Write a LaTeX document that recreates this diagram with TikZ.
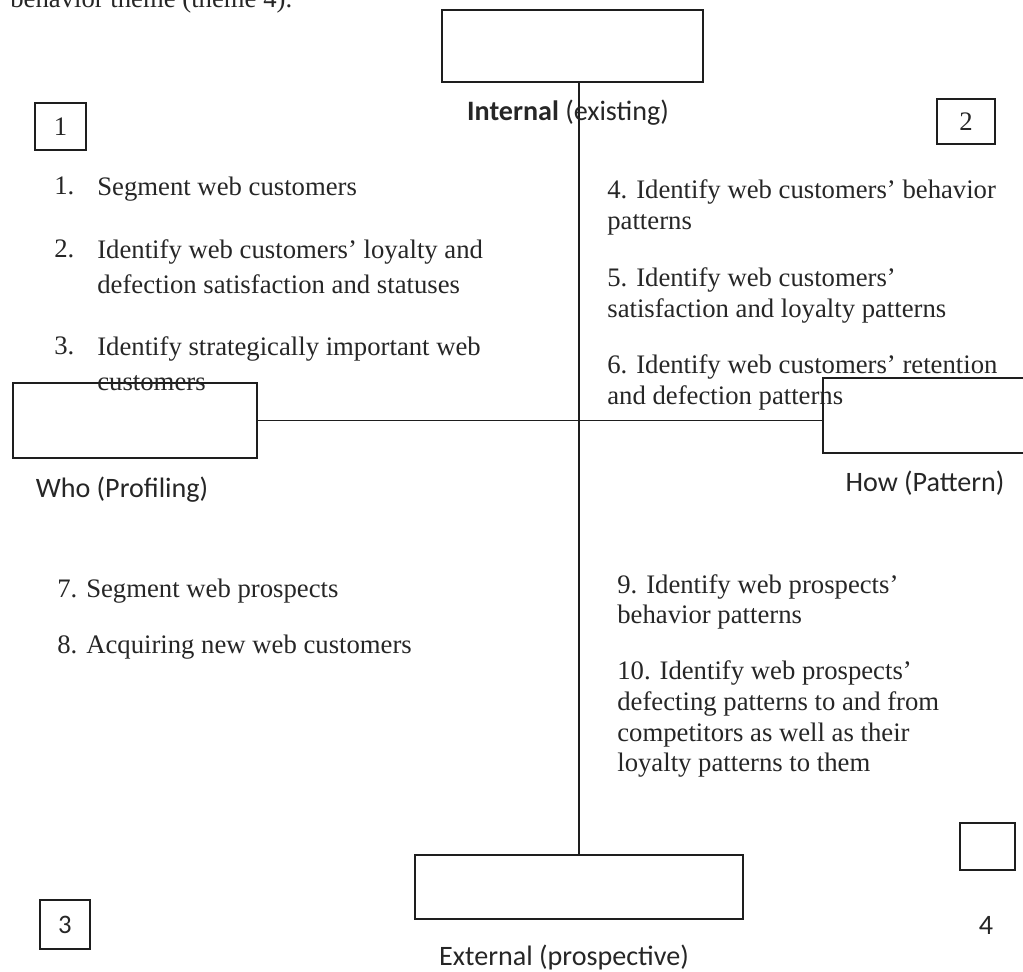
\documentclass[tikz,border=0pt]{standalone}
\usepackage{fontspec}
\setmainfont{Liberation Serif}
\setsansfont{Carlito}
\usetikzlibrary{calc}
\definecolor{InkClr}{RGB}{38,38,38}
\definecolor{LineClr}{RGB}{30,30,30}

\tikzset{
  emptybox/.style={draw=LineClr,line width=0.8pt,inner sep=0pt},
  numbox/.style={draw=LineClr,line width=0.7pt,inner sep=0pt,text=InkClr,
    font=\fontsize{15.2}{18}\selectfont},
  itemtext/.style={anchor=north west,inner sep=0pt,align=left,text=InkClr,
    font=\fontsize{15.2}{18.1}\selectfont},
  listtext/.style={itemtext,font=\fontsize{15.2}{20.4}\selectfont},
  sidelabel/.style={inner sep=0pt,text=InkClr,font=\sffamily\fontsize{16}{19}\selectfont},
}

\begin{document}
\begin{tikzpicture}[x=0.02cm,y=-0.02cm]
\useasboundingbox (0,0) rectangle (1023,972);

% cut-off line from the page above
\node[anchor=base west,inner sep=0pt,text=InkClr,font=\fontsize{15.2}{18}\selectfont]
  (prev) at (10,8) {behavior theme (theme 4).};

% the four empty boxes of the cross
\node[emptybox,minimum width=5.22cm,minimum height=1.44cm] (intl) at (572.5,46) {};
\node[emptybox,minimum width=6.56cm,minimum height=1.28cm] (ext) at (579,887) {};
\node[emptybox,minimum width=4.88cm,minimum height=1.5cm] (who) at (135,420.5) {};
\node[emptybox,minimum width=4.2cm,minimum height=1.5cm] (how) at (928,415.5) {};

\draw[line width=0.8pt,LineClr] (intl.south -| ext.north) -- (ext.north);
\draw[line width=0.8pt,LineClr] (who.east) -- (who.east -| how.west);

% axis labels
\node[sidelabel] (intlLbl) at (568,113) {\textbf{Internal} (existing)};
\node[sidelabel] (extLbl) at (564,957) {External (prospective)};
\node[sidelabel] (whoLbl) at (122,490) {Who (Profiling)};
\node[sidelabel] (howLbl) at (925,483) {How (Pattern)};

% quadrant numbers
\node[numbox,minimum width=1.02cm,minimum height=0.94cm] (q1) at (60.5,126.5) {1};
\node[numbox,minimum width=1.16cm,minimum height=0.9cm] (q2) at (966,121.5) {2};
\node[numbox,minimum width=1cm,minimum height=0.98cm,font=\sffamily\fontsize{15.2}{18}\selectfont]
  (q3) at (65,924.5) {3};
\node[numbox,minimum width=1.1cm,minimum height=0.94cm] (q4box) at (987.5,846.5) {};
\node[sidelabel] (q4) at (986,925) {4};

% quadrant 1
\node[listtext] (n1) at (54,177) {1.};
\node[listtext] (t1) at (97,177) {Segment web customers};
\node[listtext] (n2) at (54,239) {2.};
\node[listtext] (t2) at (97,239)
  {Identify web customers’ loyalty and\\defection satisfaction and statuses};
\node[listtext] (n3) at (54,336) {3.};
\node[listtext] (t3) at (97,336)
  {Identify strategically important web\\customers};

% quadrant 2
\node[itemtext] (t4) at (607,179) {4. Identify web customers’ behavior\\patterns};
\node[itemtext] (t5) at (607,267) {5. Identify web customers’\\satisfaction and loyalty patterns};
\node[itemtext] (t6) at (607,354) {6. Identify web customers’ retention\\and defection patterns};

% quadrant 3
\node[itemtext] (t7) at (57,579) {7. Segment web prospects};
\node[itemtext] (t8) at (57,635) {8. Acquiring new web customers};

% quadrant 4
\node[itemtext,font=\fontsize{15.2}{17}\selectfont] (t9) at (617,574)
  {9. Identify web prospects’\\behavior patterns};
\node[itemtext,font=\fontsize{15.2}{17.6}\selectfont] (t10) at (617,660)
  {10. Identify web prospects’\\defecting patterns to and from\\competitors as well as their\\loyalty patterns to them};

% redraw box edges over the text they cross
\draw[line width=0.8pt,LineClr] (who.north west) -- (who.north east);
\draw[line width=0.8pt,LineClr] (how.north west) -- (how.south west);
\end{tikzpicture}
\end{document}
